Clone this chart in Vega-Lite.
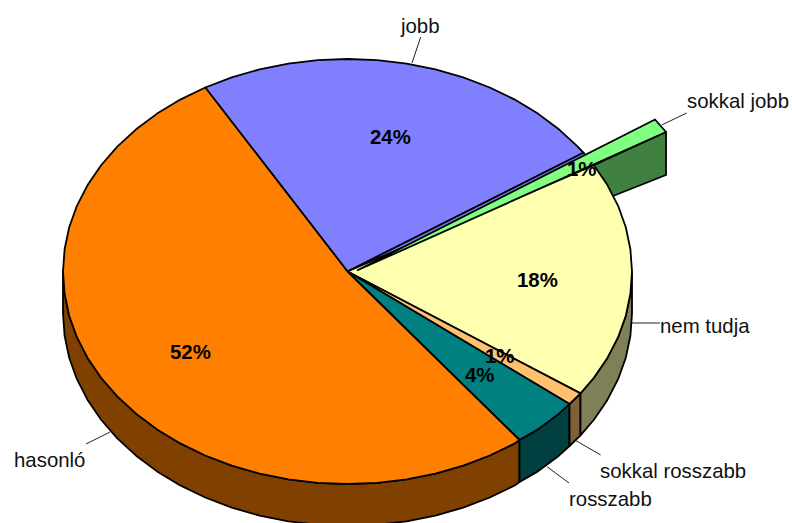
{"$schema":"https://vega.github.io/schema/vega-lite/v6.json","width":792,"height":523,"padding":0,"autosize":{"type":"none"},"background":"white","view":{"stroke":null},
"datasets":{"shapes":[
{"part":"hasonló oldal","s":1,"x":519.5,"y":440},{"part":"hasonló oldal","s":2,"x":514.7,"y":443.4},{"part":"hasonló oldal","s":3,"x":489.75,"y":455.5},{"part":"hasonló oldal","s":4,"x":463.2,"y":465.6},{"part":"hasonló oldal","s":5,"x":435.4,"y":473.6},{"part":"hasonló oldal","s":6,"x":406.6,"y":479.3},{"part":"hasonló oldal","s":7,"x":377.2,"y":482.8},{"part":"hasonló oldal","s":8,"x":347.5,"y":484},{"part":"hasonló oldal","s":9,"x":317.8,"y":482.8},{"part":"hasonló oldal","s":10,"x":288.4,"y":479.3},{"part":"hasonló oldal","s":11,"x":259.6,"y":473.6},{"part":"hasonló oldal","s":12,"x":231.8,"y":465.6},{"part":"hasonló oldal","s":13,"x":205.25,"y":455.5},{"part":"hasonló oldal","s":14,"x":180.3,"y":443.4},{"part":"hasonló oldal","s":15,"x":157.1,"y":429.4},{"part":"hasonló oldal","s":16,"x":136.1,"y":413.7},{"part":"hasonló oldal","s":17,"x":117.3,"y":396.4},{"part":"hasonló oldal","s":18,"x":101.1,"y":377.75},{"part":"hasonló oldal","s":19,"x":87.6,"y":357.9},{"part":"hasonló oldal","s":20,"x":76.9,"y":337.2},{"part":"hasonló oldal","s":21,"x":69.2,"y":315.7},{"part":"hasonló oldal","s":22,"x":64.6,"y":293.7},{"part":"hasonló oldal","s":23,"x":63,"y":271.5},
{"part":"hasonló oldal","s":24,"x":63,"y":313.5},{"part":"hasonló oldal","s":25,"x":64.6,"y":335.7},{"part":"hasonló oldal","s":26,"x":69.2,"y":357.7},{"part":"hasonló oldal","s":27,"x":76.9,"y":379.2},{"part":"hasonló oldal","s":28,"x":87.6,"y":399.9},{"part":"hasonló oldal","s":29,"x":101.1,"y":419.75},{"part":"hasonló oldal","s":30,"x":117.3,"y":438.4},{"part":"hasonló oldal","s":31,"x":136.1,"y":455.7},{"part":"hasonló oldal","s":32,"x":157.1,"y":471.4},{"part":"hasonló oldal","s":33,"x":180.3,"y":485.4},{"part":"hasonló oldal","s":34,"x":205.25,"y":497.5},{"part":"hasonló oldal","s":35,"x":231.8,"y":507.6},{"part":"hasonló oldal","s":36,"x":259.6,"y":515.6},{"part":"hasonló oldal","s":37,"x":288.4,"y":521.3},{"part":"hasonló oldal","s":38,"x":317.8,"y":524.8},{"part":"hasonló oldal","s":39,"x":347.5,"y":526},{"part":"hasonló oldal","s":40,"x":377.2,"y":524.8},{"part":"hasonló oldal","s":41,"x":406.6,"y":521.3},{"part":"hasonló oldal","s":42,"x":435.4,"y":515.6},{"part":"hasonló oldal","s":43,"x":463.2,"y":507.6},{"part":"hasonló oldal","s":44,"x":489.75,"y":497.5},{"part":"hasonló oldal","s":45,"x":514.7,"y":485.4},{"part":"hasonló oldal","s":46,"x":519.5,"y":482},{"part":"hasonló oldal","s":47,"x":519.5,"y":440},
{"part":"rosszabb oldal","s":1,"x":569.5,"y":404},{"part":"rosszabb oldal","s":2,"x":558.9,"y":413.7},{"part":"rosszabb oldal","s":3,"x":537.9,"y":429.4},{"part":"rosszabb oldal","s":4,"x":519.5,"y":440},{"part":"rosszabb oldal","s":5,"x":519.5,"y":482},{"part":"rosszabb oldal","s":6,"x":537.9,"y":471.4},{"part":"rosszabb oldal","s":7,"x":558.9,"y":455.7},{"part":"rosszabb oldal","s":8,"x":569.5,"y":446},{"part":"rosszabb oldal","s":9,"x":569.5,"y":404},
{"part":"sokkal rosszabb oldal","s":1,"x":580.5,"y":393.4},{"part":"sokkal rosszabb oldal","s":2,"x":569.5,"y":404},{"part":"sokkal rosszabb oldal","s":3,"x":569.5,"y":446},{"part":"sokkal rosszabb oldal","s":4,"x":580.5,"y":435.4},{"part":"sokkal rosszabb oldal","s":5,"x":580.5,"y":393.4},
{"part":"nem tudja oldal","s":1,"x":632,"y":271.5},{"part":"nem tudja oldal","s":2,"x":630.4,"y":293.7},{"part":"nem tudja oldal","s":3,"x":625.8,"y":315.7},{"part":"nem tudja oldal","s":4,"x":618.1,"y":337.2},{"part":"nem tudja oldal","s":5,"x":607.4,"y":357.9},{"part":"nem tudja oldal","s":6,"x":593.9,"y":377.75},{"part":"nem tudja oldal","s":7,"x":580.5,"y":393.4},{"part":"nem tudja oldal","s":8,"x":580.5,"y":435.4},{"part":"nem tudja oldal","s":9,"x":593.9,"y":419.75},{"part":"nem tudja oldal","s":10,"x":607.4,"y":399.9},{"part":"nem tudja oldal","s":11,"x":618.1,"y":379.2},{"part":"nem tudja oldal","s":12,"x":625.8,"y":357.7},{"part":"nem tudja oldal","s":13,"x":630.4,"y":335.7},{"part":"nem tudja oldal","s":14,"x":632,"y":313.5},{"part":"nem tudja oldal","s":15,"x":632,"y":271.5},
{"part":"sokkal jobb oldal","s":1,"x":590,"y":167},{"part":"sokkal jobb oldal","s":2,"x":666,"y":132},{"part":"sokkal jobb oldal","s":3,"x":666,"y":175},{"part":"sokkal jobb oldal","s":4,"x":613,"y":196},{"part":"sokkal jobb oldal","s":5,"x":590,"y":190},{"part":"sokkal jobb oldal","s":6,"x":590,"y":167},
{"part":"jobb","s":1,"x":347.5,"y":271.5},{"part":"jobb","s":2,"x":205.25,"y":87.5},{"part":"jobb","s":3,"x":231.8,"y":77.4},{"part":"jobb","s":4,"x":259.6,"y":69.4},{"part":"jobb","s":5,"x":288.4,"y":63.7},{"part":"jobb","s":6,"x":317.8,"y":60.2},{"part":"jobb","s":7,"x":347.5,"y":59},{"part":"jobb","s":8,"x":377.2,"y":60.2},{"part":"jobb","s":9,"x":406.6,"y":63.7},{"part":"jobb","s":10,"x":435.4,"y":69.4},{"part":"jobb","s":11,"x":463.2,"y":77.4},{"part":"jobb","s":12,"x":489.75,"y":87.5},{"part":"jobb","s":13,"x":514.7,"y":99.6},{"part":"jobb","s":14,"x":537.9,"y":113.6},{"part":"jobb","s":15,"x":558.9,"y":129.3},{"part":"jobb","s":16,"x":577.7,"y":146.6},{"part":"jobb","s":17,"x":583.4,"y":152.7},{"part":"jobb","s":18,"x":347.5,"y":271.5},
{"part":"jobb rés","s":1,"x":347.5,"y":271.5},{"part":"jobb rés","s":2,"x":583.4,"y":152.7},{"part":"jobb rés","s":3,"x":593.9,"y":165.25},{"part":"jobb rés","s":4,"x":347.5,"y":271.5},
{"part":"nem tudja","s":1,"x":347.5,"y":271.5},{"part":"nem tudja","s":2,"x":593.9,"y":165.25},{"part":"nem tudja","s":3,"x":607.4,"y":185.1},{"part":"nem tudja","s":4,"x":618.1,"y":205.8},{"part":"nem tudja","s":5,"x":625.8,"y":227.3},{"part":"nem tudja","s":6,"x":630.4,"y":249.3},{"part":"nem tudja","s":7,"x":632,"y":271.5},{"part":"nem tudja","s":8,"x":630.4,"y":293.7},{"part":"nem tudja","s":9,"x":625.8,"y":315.7},{"part":"nem tudja","s":10,"x":618.1,"y":337.2},{"part":"nem tudja","s":11,"x":607.4,"y":357.9},{"part":"nem tudja","s":12,"x":593.9,"y":377.75},{"part":"nem tudja","s":13,"x":580.5,"y":393.4},{"part":"nem tudja","s":14,"x":347.5,"y":271.5},
{"part":"sokkal rosszabb","s":1,"x":347.5,"y":271.5},{"part":"sokkal rosszabb","s":2,"x":580.5,"y":393.4},{"part":"sokkal rosszabb","s":3,"x":569.5,"y":404},{"part":"sokkal rosszabb","s":4,"x":347.5,"y":271.5},
{"part":"rosszabb","s":1,"x":347.5,"y":271.5},{"part":"rosszabb","s":2,"x":569.5,"y":404},{"part":"rosszabb","s":3,"x":558.9,"y":413.7},{"part":"rosszabb","s":4,"x":537.9,"y":429.4},{"part":"rosszabb","s":5,"x":519.5,"y":440},{"part":"rosszabb","s":6,"x":347.5,"y":271.5},
{"part":"hasonló","s":1,"x":347.5,"y":271.5},{"part":"hasonló","s":2,"x":519.5,"y":440},{"part":"hasonló","s":3,"x":514.7,"y":443.4},{"part":"hasonló","s":4,"x":489.75,"y":455.5},{"part":"hasonló","s":5,"x":463.2,"y":465.6},{"part":"hasonló","s":6,"x":435.4,"y":473.6},{"part":"hasonló","s":7,"x":406.6,"y":479.3},{"part":"hasonló","s":8,"x":377.2,"y":482.8},{"part":"hasonló","s":9,"x":347.5,"y":484},{"part":"hasonló","s":10,"x":317.8,"y":482.8},{"part":"hasonló","s":11,"x":288.4,"y":479.3},{"part":"hasonló","s":12,"x":259.6,"y":473.6},{"part":"hasonló","s":13,"x":231.8,"y":465.6},{"part":"hasonló","s":14,"x":205.25,"y":455.5},{"part":"hasonló","s":15,"x":180.3,"y":443.4},{"part":"hasonló","s":16,"x":157.1,"y":429.4},{"part":"hasonló","s":17,"x":136.1,"y":413.7},{"part":"hasonló","s":18,"x":117.3,"y":396.4},{"part":"hasonló","s":19,"x":101.1,"y":377.75},{"part":"hasonló","s":20,"x":87.6,"y":357.9},{"part":"hasonló","s":21,"x":76.9,"y":337.2},{"part":"hasonló","s":22,"x":69.2,"y":315.7},{"part":"hasonló","s":23,"x":64.6,"y":293.7},{"part":"hasonló","s":24,"x":63,"y":271.5},{"part":"hasonló","s":25,"x":64.6,"y":249.3},{"part":"hasonló","s":26,"x":69.2,"y":227.3},{"part":"hasonló","s":27,"x":76.9,"y":205.8},{"part":"hasonló","s":28,"x":87.6,"y":185.1},{"part":"hasonló","s":29,"x":101.1,"y":165.25},{"part":"hasonló","s":30,"x":117.3,"y":146.6},{"part":"hasonló","s":31,"x":136.1,"y":129.3},{"part":"hasonló","s":32,"x":157.1,"y":113.6},{"part":"hasonló","s":33,"x":180.3,"y":99.6},{"part":"hasonló","s":34,"x":205.25,"y":87.5},{"part":"hasonló","s":35,"x":347.5,"y":271.5},
{"part":"sokkal jobb","s":1,"x":357,"y":270.5},{"part":"sokkal jobb","s":2,"x":655,"y":119.5},{"part":"sokkal jobb","s":3,"x":666,"y":132},{"part":"sokkal jobb","s":4,"x":357,"y":270.5}
],
"leaders":[
{"x":420.7,"y":37,"x2":412,"y2":63},{"x":686.7,"y":113,"x2":661.7,"y2":125},{"x":632,"y":323,"x2":660,"y2":323},{"x":576,"y":440.7,"x2":600.7,"y2":455},{"x":547,"y":466.7,"x2":569,"y2":483},{"x":110,"y":432,"x2":86,"y2":444}
],
"names":[
{"x":401,"y":33,"t":"jobb"},{"x":687,"y":108,"t":"sokkal jobb"},{"x":660,"y":333,"t":"nem tudja"},{"x":600,"y":478,"t":"sokkal rosszabb"},{"x":569,"y":506,"t":"rosszabb"},{"x":14,"y":467,"t":"hasonló"}
],
"shares":[
{"x":370,"y":144,"t":"24%"},{"x":567,"y":176,"t":"1%"},{"x":517,"y":287,"t":"18%"},{"x":485,"y":363,"t":"1%"},{"x":465,"y":382,"t":"4%"},{"x":170,"y":359,"t":"52%"}
]},
"encoding":{"x":{"field":"x","type":"quantitative","scale":{"domain":[0,792],"nice":false,"zero":false},"axis":null},"y":{"field":"y","type":"quantitative","scale":{"domain":[523,0],"nice":false,"zero":false},"axis":null}},
"layer":[
{"data":{"name":"leaders"},"mark":{"type":"rule","color":"#222222","strokeWidth":1},"encoding":{"x2":{"field":"x2"},"y2":{"field":"y2"}}},
{"data":{"name":"shapes"},"mark":{"type":"line","stroke":"black","strokeWidth":1.8,"strokeJoin":"round","clip":true},"encoding":{"detail":{"field":"part"},"order":{"field":"s","type":"quantitative"},"fill":{"field":"part","type":"nominal","legend":null,"sort":null,"scale":{"domain":["hasonló oldal","rosszabb oldal","sokkal rosszabb oldal","nem tudja oldal","sokkal jobb oldal","jobb","jobb rés","nem tudja","sokkal rosszabb","rosszabb","hasonló","sokkal jobb"],"range":["#804000","#004040","#806038","#808058","#408040","#8080FF","#8080FF","#FFFFB0","#FFC070","#008080","#FF8000","#80FF80"]}}}},
{"data":{"name":"names"},"mark":{"type":"text","align":"left","baseline":"alphabetic","font":"Liberation Sans","fontSize":20.4,"color":"#111111"},"encoding":{"text":{"field":"t"}}},
{"data":{"name":"shares"},"mark":{"type":"text","align":"left","baseline":"alphabetic","font":"Liberation Sans","fontSize":20.4,"fontWeight":"bold","color":"black"},"encoding":{"text":{"field":"t"}}}
]}
